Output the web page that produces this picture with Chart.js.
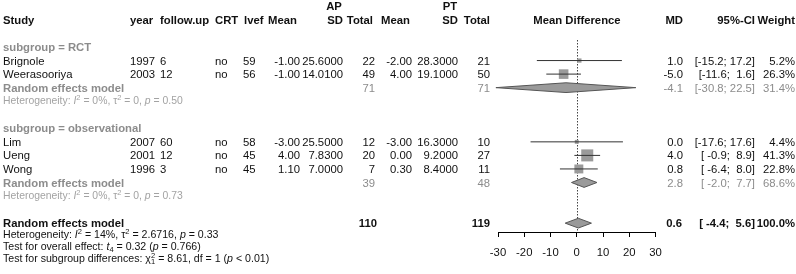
<!DOCTYPE html>
<html><head><meta charset="utf-8">
<script src="https://cdn.jsdelivr.net/npm/chart.js@4/dist/chart.umd.min.js"></script>
<style>
html,body{margin:0;padding:0;background:#fff;}
#wrap{position:relative;width:796px;height:274px;overflow:hidden;font-family:"Liberation Sans",Arial,Helvetica,sans-serif;}
#c{position:absolute;left:0;top:0;}
.t{position:absolute;white-space:pre;font-size:11.3px;line-height:14px;height:14px;color:#111;}
.b{font-weight:bold;}
.g{color:#8c8c8c;}
.h{color:#a3a3a3;font-size:10.4px;}
.f{font-size:10.6px;color:#111;}
sup,sub{font-size:7.5px;line-height:0;}
sup{vertical-align:4px;} sub{vertical-align:-2px;}
</style></head><body>
<div id="wrap"><canvas id="c" width="796" height="274" style="width:796px;height:274px"></canvas><div id="txt"></div></div>
<script>
// ---------- data ----------
const studies   = ['Brignole','Weerasooriya','Lim','Ueng','Wong'];
const subgroupOf= ['RCT','RCT','observational','observational','observational'];
const years     = [1997,2003,2007,2001,1996];
const followUp  = [6,12,60,12,3];
const crt       = ['no','no','no','no','no'];
const lvef      = [59,56,58,45,45];
const apMean    = [-1.00,-1.00,-3.00,4.00,1.10];
const apSD      = [25.6,14.01,25.5,7.83,7.0];
const apTotal   = [22,49,12,20,7];
const ptMean    = [-2.00,4.00,-3.00,0.00,0.30];
const ptSD      = [28.3,19.1,16.3,9.2,8.4];
const ptTotal   = [21,50,10,27,11];
const md        = [1.0,-5.0,0.0,4.0,0.8];
const ciLo      = [-15.2,-11.6,-17.6,-0.9,-6.4];
const ciHi      = [17.2,1.6,17.6,8.9,8.0];
const weight    = [5.2,26.3,4.4,41.3,22.8];

const subgroups   = ['RCT','observational'];
const subMD       = [-4.1,2.8];
const subLo       = [-30.8,-2.0];
const subHi       = [22.5,7.7];
const subWeight   = [31.4,68.6];
const subApTotal  = [71,39];
const subPtTotal  = [71,48];
const subI2       = ['0%','0%'];
const subTau2     = ['0','0'];
const subP        = ['0.50','0.73'];

const overallMD = 0.6, overallLo = -4.4, overallHi = 5.6, overallWeight = 100.0;
const overallApTotal = 110, overallPtTotal = 119;
const overallI2 = '14%', overallTau2 = '2.6716', overallP = '0.33';
const overallT = '0.32', overallTdf = '4', overallTp = '0.766';
const subDiffChi = '8.61', subDiffDf = '1', subDiffP = '< 0.01';

const xTicks = [-30,-20,-10,0,10,20,30];

// ---------- layout ----------
const ROW0 = 47, ROWH = 13.55, PLOT_TOP = 40, PLOT_BOTTOM = 232;
const rowY = k => ROW0 + ROWH * k;
const txt = document.getElementById('txt');
function put(html, x, y, align, cls) {
  const d = document.createElement('div');
  d.className = 't ' + (cls || '');
  d.innerHTML = html;
  d.style.top = (y - 7) + 'px';
  if (align === 'r') { d.style.left = (x - 300) + 'px'; d.style.width = '300px'; d.style.textAlign = 'right'; }
  else if (align === 'c') { d.style.left = (x - 150) + 'px'; d.style.width = '300px'; d.style.textAlign = 'center'; }
  else d.style.left = x + 'px';
  txt.appendChild(d);
}
const COL = {study:3, year:130, fu:160, crt:215, lvef:243, apMean:300, apSD:343, apTot:375,
             ptMean:412, ptSD:458, ptTot:490, plot:577, md:683, ci:755, w:795};
const fmtCI = (lo,hi) => '[' + lo.toFixed(1).padStart(5) + ';' + hi.toFixed(1).padStart(5) + ']';

// headers
put('AP', 334, rowY(-3), 'c', 'b');
put('PT', 450, rowY(-3), 'c', 'b');
const hy = rowY(-2);
put('Study', COL.study, hy, 'l', 'b');
put('year', COL.year, hy, 'l', 'b');
put('follow.up', COL.fu, hy, 'l', 'b');
put('CRT', COL.crt, hy, 'l', 'b');
put('lvef', COL.lvef + 1, hy, 'l', 'b');
put('Mean', COL.apMean - 3, hy, 'r', 'b');
put('SD', COL.apSD, hy, 'r', 'b');
put('Total', COL.apTot - 2, hy, 'r', 'b');
put('Mean', COL.ptMean - 2, hy, 'r', 'b');
put('SD', COL.ptSD, hy, 'r', 'b');
put('Total', COL.ptTot, hy, 'r', 'b');
put('Mean Difference', COL.plot, hy, 'c', 'b');
put('MD', COL.md, hy, 'r', 'b');
put('95%-CI', COL.ci, hy, 'r', 'b');
put('Weight', COL.w, hy, 'r', 'b');

// rows
const studyRows = [], diamonds = [];
let k = 0;
subgroups.forEach((sg, gi) => {
  put('subgroup = ' + sg, COL.study, rowY(k), 'l', 'b g');
  k++;
  studies.forEach((s, i) => {
    if (subgroupOf[i] !== sg) return;
    const y = rowY(k);
    put(s, COL.study, y, 'l');
    put(String(years[i]), COL.year, y, 'l');
    put(String(followUp[i]), COL.fu, y, 'l');
    put(crt[i], COL.crt, y, 'l');
    put(String(lvef[i]), COL.lvef, y, 'l');
    put(apMean[i].toFixed(2), COL.apMean, y, 'r');
    put(apSD[i].toFixed(4), COL.apSD, y, 'r');
    put(String(apTotal[i]), COL.apTot, y, 'r');
    put(ptMean[i].toFixed(2), COL.ptMean, y, 'r');
    put(ptSD[i].toFixed(4), COL.ptSD, y, 'r');
    put(String(ptTotal[i]), COL.ptTot, y, 'r');
    put(md[i].toFixed(1), COL.md, y, 'r');
    put(fmtCI(ciLo[i], ciHi[i]), COL.ci, y, 'r');
    put(weight[i].toFixed(1) + '%', COL.w, y, 'r');
    studyRows.push({i, k});
    k++;
  });
  const y = rowY(k);
  put('Random effects model', COL.study, y, 'l', 'b g');
  put(String(subApTotal[gi]), COL.apTot, y, 'r', 'g');
  put(String(subPtTotal[gi]), COL.ptTot, y, 'r', 'g');
  put(subMD[gi].toFixed(1), COL.md, y, 'r', 'g');
  put(fmtCI(subLo[gi], subHi[gi]), COL.ci, y, 'r', 'g');
  put(subWeight[gi].toFixed(1) + '%', COL.w, y, 'r', 'g');
  diamonds.push({m: subMD[gi], lo: subLo[gi], hi: subHi[gi], k});
  k++;
  put('Heterogeneity: <i>I</i><sup>2</sup> = ' + subI2[gi] + ', τ<sup>2</sup> = ' + subTau2[gi] + ', <i>p</i> = ' + subP[gi], COL.study, rowY(k), 'l', 'h');
  k += 2;
});
{
  const y = rowY(k) - 0.5;
  put('Random effects model', COL.study, y, 'l', 'b');
  put(String(overallApTotal), COL.apTot + 2, y, 'r', 'b');
  put(String(overallPtTotal), COL.ptTot, y, 'r', 'b');
  put(overallMD.toFixed(1), COL.md - 1, y, 'r', 'b');
  put(fmtCI(overallLo, overallHi), COL.ci, y, 'r', 'b');
  put(overallWeight.toFixed(1) + '%', COL.w, y, 'r', 'b');
  diamonds.push({m: overallMD, lo: overallLo, hi: overallHi, k});
}
put('Heterogeneity: <i>I</i><sup>2</sup> = ' + overallI2 + ', τ<sup>2</sup> = ' + overallTau2 + ', <i>p</i> = ' + overallP, COL.study, 233.5, 'l', 'f');
put('Test for overall effect: <i>t</i><sub>' + overallTdf + '</sub> = ' + overallT + ' (<i>p</i> = ' + overallTp + ')', COL.study, 245.5, 'l', 'f');
put('Test for subgroup differences: χ<sup>2</sup><sub style="margin-left:-4px">' + subDiffDf + '</sub> = ' + subDiffChi + ', df = ' + subDiffDf + ' (<i>p</i> ' + subDiffP + ')', COL.study, 257.5, 'l', 'f');

// ---------- chart ----------
const datasets = [];
studyRows.forEach(({i, k}) => {
  datasets.push({data: [{x: ciLo[i], y: k}, {x: ciHi[i], y: k}], showLine: true, borderColor: '#333',
    borderWidth: 1, pointRadius: 0, order: 0, clip: false});
});
datasets.push({data: studyRows.map(({i, k}) => ({x: md[i], y: k})), pointStyle: 'rect',
  pointRadius: studyRows.map(({i}) => 1.87 * Math.sqrt(weight[i]) / Math.SQRT2),
  backgroundColor: '#9a9a9a', borderWidth: 0, order: 1, clip: false});
const DH = 0.36;
diamonds.forEach(d => {
  datasets.push({data: [{x: d.lo, y: d.k}, {x: d.m, y: d.k - DH}, {x: d.hi, y: d.k}, {x: d.m, y: d.k + DH}, {x: d.lo, y: d.k}],
    showLine: true, fill: 'shape', backgroundColor: '#9a9a9a', borderColor: '#555', borderWidth: 1,
    pointRadius: 0, tension: 0, order: 0, clip: false});
});

const zeroLine = {
  id: 'zeroLine',
  beforeDatasetsDraw(chart) {
    const {ctx, chartArea, scales} = chart;
    const x = Math.round(scales.x.getPixelForValue(0)) + 0.5;
    ctx.save();
    ctx.strokeStyle = '#444';
    ctx.lineWidth = 1;
    ctx.setLineDash([1.5, 1.5]);
    ctx.beginPath();
    ctx.moveTo(x, chartArea.top);
    ctx.lineTo(x, chartArea.bottom);
    ctx.stroke();
    ctx.restore();
  }
};

new Chart(document.getElementById('c'), {
  type: 'scatter',
  data: {datasets},
  options: {
    responsive: false, animation: false, devicePixelRatio: 1,
    layout: {padding: {left: 498, right: 796 - 655.5, top: PLOT_TOP, bottom: 0}},
    plugins: {legend: {display: false}, tooltip: {enabled: false}},
    scales: {
      x: {type: 'linear', min: xTicks[0], max: xTicks[xTicks.length - 1],
        afterBuildTicks: s => { s.ticks = xTicks.map(v => ({value: v})); },
        afterFit: s => { s.height = 274 - PLOT_BOTTOM; },
        grid: {display: true, drawOnChartArea: false, drawTicks: true, tickLength: 5, color: '#000', lineWidth: 1},
        border: {display: true, color: '#000', width: 1},
        ticks: {color: '#111', padding: 9, font: {family: '"Liberation Sans", Arial, sans-serif', size: 11.3}, maxRotation: 0,
          callback: v => String(v)}},
      y: {type: 'linear', display: false, reverse: true,
        min: (PLOT_TOP - ROW0) / ROWH, max: (PLOT_BOTTOM - ROW0) / ROWH}
    }
  },
  plugins: [zeroLine]
});
</script>
</body></html>
